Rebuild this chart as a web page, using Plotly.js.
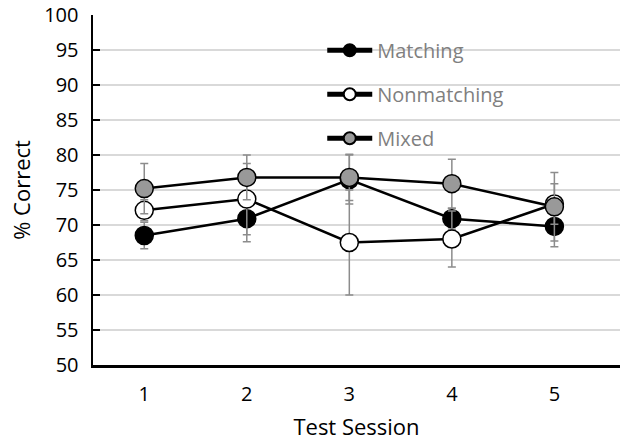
<!DOCTYPE html>
<html>
<head>
<meta charset="utf-8">
<script src="https://cdn.plot.ly/plotly-3.0.1.min.js"></script>
<style>html,body{margin:0;padding:0;background:#fff;}#chart{width:620px;height:441px;}</style>
</head>
<body>
<div id="chart"></div>
<script>
const sessions = [1, 2, 3, 4, 5];
const matching = [68.5, 70.9, 76.5, 70.9, 69.8];
const matchingErr = [1.9, 3.3, 3.5, 1.5, 2.9];
const nonmatching = [72.1, 73.7, 67.5, 68.0, 73.0];
const nonmatchingErr = [1.5, 5.1, 7.5, 4.0, 2.9];
const mixed = [75.2, 76.8, 76.8, 75.9, 72.6];
const mixedErr = [3.6, 3.2, 3.3, 3.5, 4.9];
const yTicks = [50, 55, 60, 65, 70, 75, 80, 85, 90, 95, 100];

const font = "'Open Sans', 'Noto Sans', sans-serif";
function series(name, y, err, fill, group) {
  return {
    x: sessions, y: y, name: name, type: 'scatter', mode: 'lines+markers',
    legendgroup: group,
    line: {color: '#000', width: 2.5},
    marker: {size: 18, color: fill, line: {color: '#000', width: 1.5}},
    error_y: {type: 'data', array: err, visible: true, color: '#8c8c8c', thickness: 1.5, width: 4}
  };
}
const data = [
  series('Matching', matching, matchingErr, '#000000', 'a'),
  series('Nonmatching', nonmatching, nonmatchingErr, '#ffffff', 'b'),
  series('Mixed', mixed, mixedErr, '#999999', 'c')
];
const layout = {
  width: 620, height: 441,
  margin: {l: 93, r: 0, t: 15, b: 76},
  paper_bgcolor: '#fff', plot_bgcolor: '#fff',
  font: {family: font, color: '#000'},
  showlegend: true,
  legend: {
    x: 0.435, y: 0.955, xanchor: 'left', yanchor: 'top',
    bgcolor: 'rgba(0,0,0,0)',
    font: {size: 20, color: '#7f7f7f', family: font},
    tracegroupgap: 15, itemwidth: 45, itemsizing: 'constant'
  },
  xaxis: {
    range: [0.5, 5.64], tickvals: sessions, ticktext: sessions.map(String),
    showgrid: false, zeroline: false,
    showline: true, linecolor: '#000', linewidth: 2.5,
    ticks: '', tickfont: {size: 20}, ticklen: 0, ticklabelstandoff: 9,
    title: {text: 'Test Session', font: {size: 22}, standoff: 15}
  },
  yaxis: {
    range: [50, 100], tickvals: yTicks,
    showgrid: true, gridcolor: '#d9d9d9', gridwidth: 1.5, zeroline: false,
    showline: true, linecolor: '#000', linewidth: 2.5,
    ticks: 'inside', ticklen: 7, tickwidth: 2.5, tickcolor: '#000',
    tickfont: {size: 20}, ticklabelstandoff: 8,
    title: {text: '% Correct', font: {size: 22}, standoff: 8}
  }
};
Plotly.newPlot('chart', data, layout, {displayModeBar: false, staticPlot: true});
</script>
</body>
</html>
